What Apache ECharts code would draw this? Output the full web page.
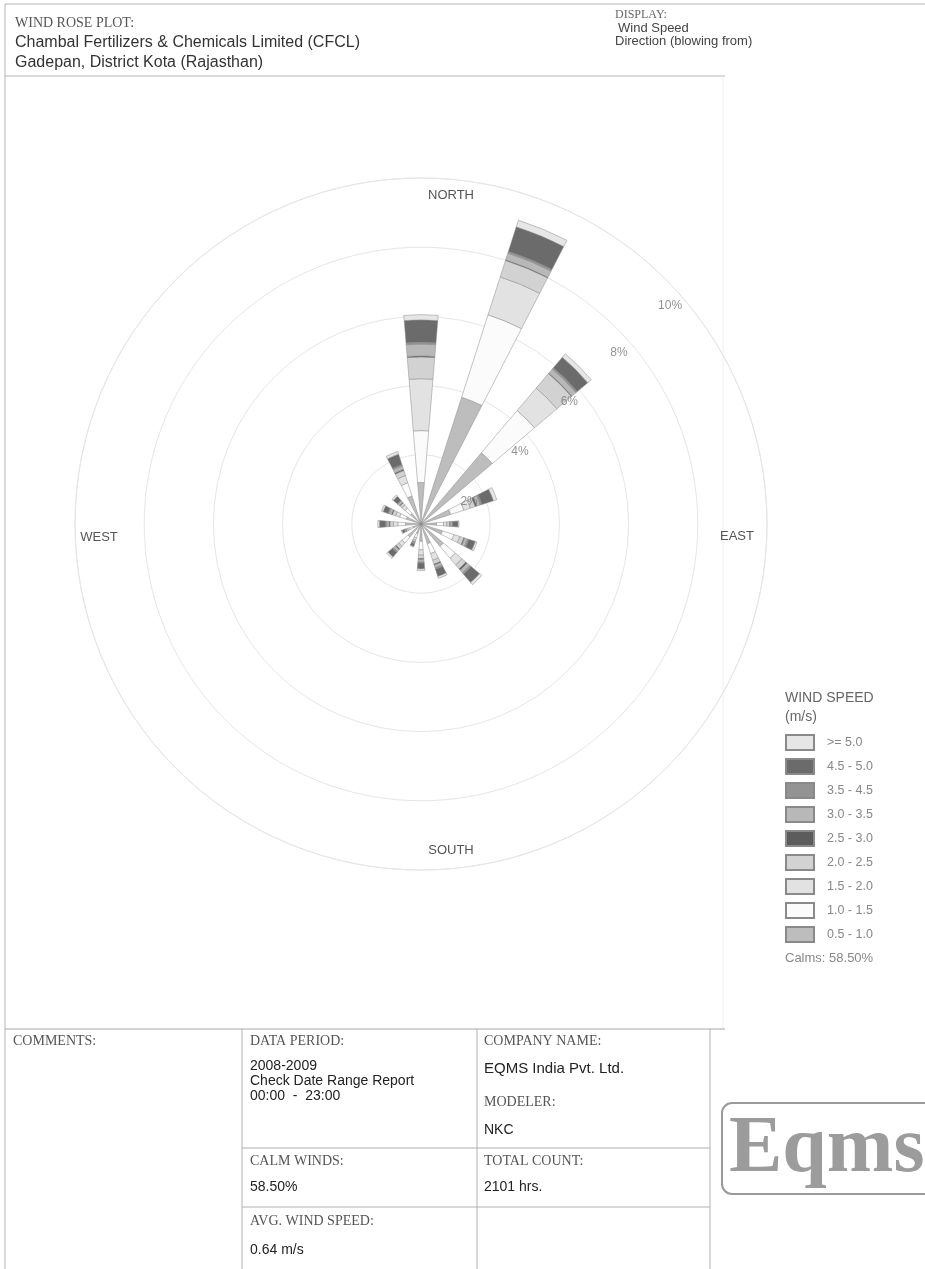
<!DOCTYPE html>
<html>
<head>
<meta charset="utf-8">
<title>Wind Rose Plot</title>
<script src="https://cdn.jsdelivr.net/npm/echarts@6/dist/echarts.min.js"></script>
<style>
  html, body { margin: 0; padding: 0; background: #fff; }
  #chart { width: 925px; height: 1269px; }
</style>
</head>
<body>
<div id="chart"></div>
<script>
// 风向 (blowing from), clockwise from north
var directions = ['N', 'NNE', 'NE', 'ENE', 'E', 'ESE', 'SE', 'SSE', 'S', 'SSW', 'SW', 'WSW', 'W', 'WNW', 'NW', 'NNW'];

// frequency (%) per speed class, one value per direction
var ws05_10 = [1.20, 3.85, 2.70, 0.90, 0.45, 0.65, 0.85, 0.60, 0.50, 0.30, 0.50, 0.25, 0.45, 0.45, 0.40, 0.85];
var ws10_15 = [1.50, 2.50, 1.60, 0.40, 0.20, 0.35, 0.45, 0.30, 0.25, 0.12, 0.22, 0.10, 0.22, 0.20, 0.20, 0.40];
var ws15_20 = [1.50, 1.15, 0.85, 0.20, 0.10, 0.18, 0.25, 0.20, 0.15, 0.07, 0.13, 0.06, 0.13, 0.12, 0.12, 0.22];
var ws20_25 = [0.63, 0.50, 0.55, 0.15, 0.08, 0.12, 0.15, 0.12, 0.10, 0.05, 0.10, 0.05, 0.10, 0.10, 0.08, 0.15];
var ws25_30 = [0.03, 0.02, 0.02, 0.05, 0.02, 0.03, 0.05, 0.03, 0.03, 0.01, 0.03, 0.01, 0.03, 0.03, 0.02, 0.04];
var ws30_35 = [0.34, 0.20, 0.15, 0.10, 0.05, 0.08, 0.10, 0.08, 0.07, 0.03, 0.07, 0.03, 0.06, 0.07, 0.06, 0.10];
var ws35_45 = [0.05, 0.05, 0.05, 0.05, 0.02, 0.04, 0.05, 0.04, 0.03, 0.02, 0.03, 0.01, 0.03, 0.03, 0.02, 0.04];
var ws45_50 = [0.65, 0.75, 0.40, 0.35, 0.15, 0.20, 0.32, 0.22, 0.17, 0.08, 0.17, 0.07, 0.18, 0.15, 0.15, 0.32];
var ws50 = [0.15, 0.20, 0.13, 0.10, 0.03, 0.05, 0.08, 0.06, 0.05, 0.02, 0.05, 0.02, 0.05, 0.05, 0.05, 0.08];

var speedClasses = ['0.5 - 1.0', '1.0 - 1.5', '1.5 - 2.0', '2.0 - 2.5', '2.5 - 3.0', '3.0 - 3.5', '3.5 - 4.5', '4.5 - 5.0', '>= 5.0'];
var speedData = [ws05_10, ws10_15, ws15_20, ws20_25, ws25_30, ws30_35, ws35_45, ws45_50, ws50];

// ring tick labels
var ringValues = [2, 4, 6, 8, 10];
var ringLabels = ['2%', '4%', '6%', '8%', '10%'];

// ---- layout / style ----
var CX = 421, CY = 524, R = 346;
var speedColors = ['#bdbdbd', '#fbfbfb', '#e2e2e2', '#d2d2d2', '#5c5c5c', '#b8b8b8', '#939393', '#6b6b6b', '#e6e6e6'];
var labelAngles = [24.6, 36, 39.4, 40.8, 41.2];
var SANS = 'Liberation Sans, Arial, sans-serif';
var SERIF = 'Liberation Serif, Times New Roman, serif';

function txt(x, y, s, size, family, color, align) {
  return {
    type: 'text', x: x, y: y, silent: true, z: 10,
    style: {
      text: s, font: size + 'px ' + family, fill: color,
      textAlign: align || 'left', textVerticalAlign: 'middle'
    }
  };
}
function ln(x1, y1, x2, y2, color, w) {
  return {
    type: 'line', silent: true,
    shape: { x1: x1, y1: y1, x2: x2, y2: y2 },
    style: { stroke: color || '#9a9a9a', lineWidth: w || 1 }
  };
}

var myChart = echarts.init(document.getElementById('chart'), null, { renderer: 'canvas' });

var series = speedClasses.map(function (name, i) {
  return {
    name: name,
    type: 'bar',
    coordinateSystem: 'polar',
    polarIndex: 0,
    stack: 'speed',
    barCategoryGap: '58%',
    data: speedData[i],
    itemStyle: { color: speedColors[i], borderColor: '#8a8a8a', borderWidth: 0.5 },
    emphasis: { disabled: true }
  };
});

// ring percentage labels, placed through a second (hidden) polar system
series.push({
  type: 'scatter',
  coordinateSystem: 'polar',
  polarIndex: 1,
  symbolSize: 0,
  silent: true,
  zlevel: 1,
  z: 5,
  data: ringValues.map(function (v, i) { return [v, labelAngles[i]]; }),
  label: {
    show: true,
    position: 'inside',
    color: '#777',
    fontSize: 12,
    fontFamily: SANS,
    formatter: function (p) { return ringLabels[p.dataIndex]; }
  },
  labelLayout: { hideOverlap: false }
});

var hidden = { show: false };

var logoText = txt(729, 1150, 'Eqms', 80, SERIF, '#9c9c9c');
logoText.style.font = 'bold 80px ' + SERIF;

var graphics = [
  // frame
  ln(5, 4, 925, 4, '#b5b5b5'),
  ln(5, 4, 5, 1269, '#b5b5b5'),
  ln(5, 76, 725, 76, '#b5b5b5'),
  ln(723, 76, 723, 1029, '#efefef'),
  // header
  txt(15, 23, 'WIND ROSE PLOT:', 14, SERIF, '#555'),
  txt(15, 43, 'Chambal Fertilizers & Chemicals Limited (CFCL)', 16, SANS, '#333'),
  txt(15, 63, 'Gadepan, District Kota (Rajasthan)', 16, SANS, '#333'),
  txt(615, 15, 'DISPLAY:', 12, SERIF, '#666'),
  txt(618, 28, 'Wind Speed', 13, SANS, '#444'),
  txt(615, 41, 'Direction (blowing from)', 13, SANS, '#444'),
  // compass labels
  txt(451, 195, 'NORTH', 13, SANS, '#555', 'center'),
  txt(451, 850, 'SOUTH', 13, SANS, '#555', 'center'),
  txt(99, 537, 'WEST', 13, SANS, '#555', 'center'),
  txt(737, 536, 'EAST', 13, SANS, '#555', 'center'),
  // legend title / calms
  txt(785, 698, 'WIND SPEED', 14, SANS, '#666'),
  txt(785, 717, '(m/s)', 14, SANS, '#666'),
  txt(785, 958, 'Calms: 58.50%', 13, SANS, '#888'),
  // bottom table
  ln(5, 1029, 725, 1029, '#a8a8a8'),
  ln(242, 1029, 242, 1269, '#b0b0b0'),
  ln(477, 1029, 477, 1269, '#b0b0b0'),
  ln(710, 1029, 710, 1269, '#b0b0b0'),
  ln(242, 1148, 710, 1148, '#b0b0b0'),
  ln(242, 1207, 710, 1207, '#b0b0b0'),
  txt(13, 1041, 'COMMENTS:', 14, SERIF, '#555'),
  txt(250, 1041, 'DATA PERIOD:', 14, SERIF, '#555'),
  txt(250, 1066, '2008-2009', 14, SANS, '#222'),
  txt(250, 1081, 'Check Date Range Report', 14, SANS, '#222'),
  txt(250, 1096, '00:00  -  23:00', 14, SANS, '#222'),
  txt(484, 1041, 'COMPANY NAME:', 14, SERIF, '#555'),
  txt(484, 1069, 'EQMS India Pvt. Ltd.', 15, SANS, '#222'),
  txt(484, 1102, 'MODELER:', 14, SERIF, '#555'),
  txt(484, 1130, 'NKC', 14, SANS, '#222'),
  txt(250, 1161, 'CALM WINDS:', 14, SERIF, '#555'),
  txt(250, 1187, '58.50%', 14, SANS, '#222'),
  txt(484, 1161, 'TOTAL COUNT:', 14, SERIF, '#555'),
  txt(484, 1187, '2101 hrs.', 14, SANS, '#222'),
  txt(250, 1221, 'AVG. WIND SPEED:', 14, SERIF, '#555'),
  txt(250, 1250, '0.64 m/s', 14, SANS, '#222'),
  // logo
  {
    type: 'rect', silent: true,
    shape: { x: 722, y: 1103, width: 220, height: 91, r: 10 },
    style: { fill: '#fff', stroke: '#9a9a9a', lineWidth: 2 }
  },
  logoText
];

var option = {
  backgroundColor: '#fff',
  animation: false,
  polar: [
    { center: [CX, CY], radius: R },
    { center: [CX, CY], radius: 331 }
  ],
  angleAxis: [
    {
      polarIndex: 0,
      type: 'category',
      data: directions,
      startAngle: 90 + 11.25,
      clockwise: true,
      boundaryGap: true,
      axisLine: { show: true, lineStyle: { color: '#e6e6e6', width: 1 } },
      axisTick: hidden,
      axisLabel: hidden,
      splitLine: hidden
    },
    {
      polarIndex: 1,
      type: 'value',
      min: 0,
      max: 360,
      startAngle: 0,
      clockwise: false,
      axisLine: hidden,
      axisTick: hidden,
      axisLabel: hidden,
      splitLine: hidden
    }
  ],
  radiusAxis: [
    {
      polarIndex: 0,
      type: 'value',
      min: 0,
      max: 10,
      interval: 2,
      axisLine: hidden,
      axisTick: hidden,
      axisLabel: hidden,
      splitLine: { show: true, lineStyle: { color: '#e6e6e6', width: 1 } }
    },
    {
      polarIndex: 1,
      type: 'value',
      min: 0.48,
      max: 10,
      axisLine: hidden,
      axisTick: hidden,
      axisLabel: hidden,
      splitLine: hidden
    }
  ],
  legend: {
    orient: 'vertical',
    left: 785,
    top: 734,
    padding: 0,
    itemWidth: 28,
    itemHeight: 15,
    itemGap: 7,
    icon: 'rect',
    selectedMode: false,
    data: speedClasses.slice().reverse(),
    textStyle: { color: '#888', fontSize: 12.5, fontFamily: SANS, padding: [0, 0, 0, 8], lineHeight: 17 }
  },
  graphic: graphics,
  series: series
};

myChart.setOption(option);
</script>
</body>
</html>
